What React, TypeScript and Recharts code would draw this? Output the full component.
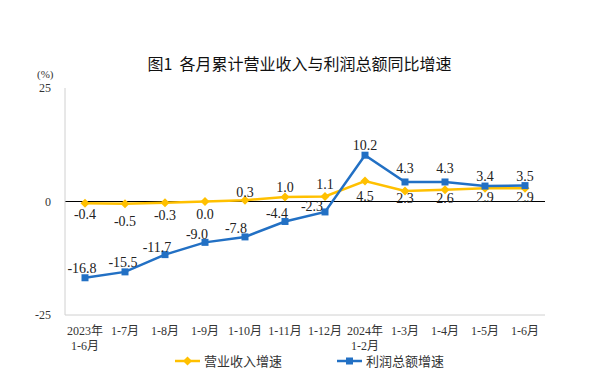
import React from "react";
import {
  LineChart,
  Line,
  XAxis,
  YAxis,
  ReferenceLine,
} from "recharts";

const months = [
  "2023年|1-6月",
  "1-7月",
  "1-8月",
  "1-9月",
  "1-10月",
  "1-11月",
  "1-12月",
  "2024年|1-2月",
  "1-3月",
  "1-4月",
  "1-5月",
  "1-6月",
];
const revenue = [-0.4, -0.5, -0.3, 0.0, 0.3, 1.0, 1.1, 4.5, 2.3, 2.6, 2.9, 2.9];
const profit = [-16.8, -15.5, -11.7, -9.0, -7.8, -4.4, -2.3, 10.2, 4.3, 4.3, 3.4, 3.5];
const yTicks = [-25, 0, 25];

const data = months.map((m, i) => ({ month: m, revenue: revenue[i], profit: profit[i] }));

const YELLOW = "#FFC000";
const BLUE = "#2270C4";
const FRAME = "#D0D0D0";
const SERIF = "'Liberation Serif', 'Noto Sans CJK SC', serif";

// label nudges (centre of text relative to the point)
const revenueDy = [11, 17, 12, 12, -8, -10, -13, 15, 7, 8, 9, 9];
const profitDx = [-3, -2, -8, -8, -9, -8, -13, 0, 0, 0, 0, 0];
const profitDy = [-10, -9.5, -8, -8, -8.5, -8, -6, -10, -14, -14, -10.5, -10];

const MonthTick = (props: any) => {
  const { x, y, payload } = props;
  const lines = String(payload.value).split("|");
  return (
    <g>
      {lines.map((t, i) => (
        <text
          key={i}
          x={x}
          y={y + 12 + i * 15}
          textAnchor="middle"
          fontSize={12}
          fontFamily={SERIF}
          fill="#333"
        >
          {t}
        </text>
      ))}
    </g>
  );
};

const RevenueLabel = (props: any) => {
  const { x, y, index, value } = props;
  return (
    <text x={x} y={y + revenueDy[index] + 5} textAnchor="middle" fontSize={14} fontFamily={SERIF} fill="#222">
      {Number(value).toFixed(1)}
    </text>
  );
};

const ProfitLabel = (props: any) => {
  const { x, y, index, value } = props;
  return (
    <text x={x + profitDx[index]} y={y + profitDy[index] + 5} textAnchor="middle" fontSize={14} fontFamily={SERIF} fill="#222">
      {Number(value).toFixed(1)}
    </text>
  );
};

const Diamond = (props: any) => {
  const { cx, cy } = props;
  if (cx == null || cy == null) return null;
  return <path d={`M${cx},${cy - 4.5}L${cx + 4.5},${cy}L${cx},${cy + 4.5}L${cx - 4.5},${cy}Z`} fill={YELLOW} />;
};

const Square = (props: any) => {
  const { cx, cy } = props;
  if (cx == null || cy == null) return null;
  return <rect x={cx - 3.5} y={cy - 3.5} width={7} height={7} fill={BLUE} />;
};

export default function App() {
  return (
    <div style={{ position: "absolute", left: 0, top: 0, width: 599, height: 391, background: "#fff" }}>
      <div
        style={{
          position: "absolute",
          top: 51,
          left: 0,
          width: 599,
          textAlign: "center",
          fontFamily: "'Noto Sans CJK SC', sans-serif",
          fontSize: 16,
          color: "#111",
        }}
      >
        图1&nbsp;&nbsp;各月累计营业收入与利润总额同比增速
      </div>
      <div
        style={{
          position: "absolute",
          top: 68,
          left: 37,
          fontFamily: SERIF,
          fontSize: 11,
          color: "#333",
        }}
      >
        (%)
      </div>
      <LineChart
        width={599}
        height={391}
        data={data}
        margin={{ top: 88, right: 54, bottom: 36, left: 15 }}
      >
        <XAxis
          dataKey="month"
          padding={{ left: 20, right: 20 }}
          axisLine={{ stroke: FRAME }}
          tickLine={false}
          tick={<MonthTick />}
          height={40}
          interval={0}
        />
        <XAxis xAxisId="top" orientation="top" dataKey="month" height={0} tick={false} tickLine={false} axisLine={{ stroke: FRAME }} />
        <YAxis
          domain={[-25, 25]}
          ticks={yTicks}
          width={50}
          axisLine={{ stroke: FRAME }}
          tickLine={false}
          tickMargin={8}
          tick={{ fontSize: 12, fontFamily: SERIF, fill: "#333" }}
        />
        <YAxis yAxisId="right" orientation="right" domain={[-25, 25]} width={0} tick={false} tickLine={false} axisLine={{ stroke: FRAME }} />
        <ReferenceLine y={0} stroke="#000" strokeWidth={1} />
        <Line
          dataKey="revenue"
          stroke={YELLOW}
          strokeWidth={2.5}
          dot={<Diamond />}
          activeDot={false}
          label={<RevenueLabel />}
          isAnimationActive={false}
        />
        <Line
          dataKey="profit"
          stroke={BLUE}
          strokeWidth={2.5}
          dot={<Square />}
          activeDot={false}
          label={<ProfitLabel />}
          isAnimationActive={false}
        />
      </LineChart>
      <svg style={{ position: "absolute", left: 0, top: 350 }} width={599} height={24}>
        <line x1={175} y1={11} x2={200} y2={11} stroke={YELLOW} strokeWidth={2.5} />
        <path d="M187.5,6.5L192,11L187.5,15.5L183,11Z" fill={YELLOW} />
        <text x={204} y={16} fontSize={13} fontFamily="'Noto Sans CJK SC', sans-serif" fill="#333">
          营业收入增速
        </text>
        <line x1={337} y1={11} x2={362} y2={11} stroke={BLUE} strokeWidth={2.5} />
        <rect x={346} y={7.5} width={7} height={7} fill={BLUE} />
        <text x={366} y={16} fontSize={13} fontFamily="'Noto Sans CJK SC', sans-serif" fill="#333">
          利润总额增速
        </text>
      </svg>
    </div>
  );
}
